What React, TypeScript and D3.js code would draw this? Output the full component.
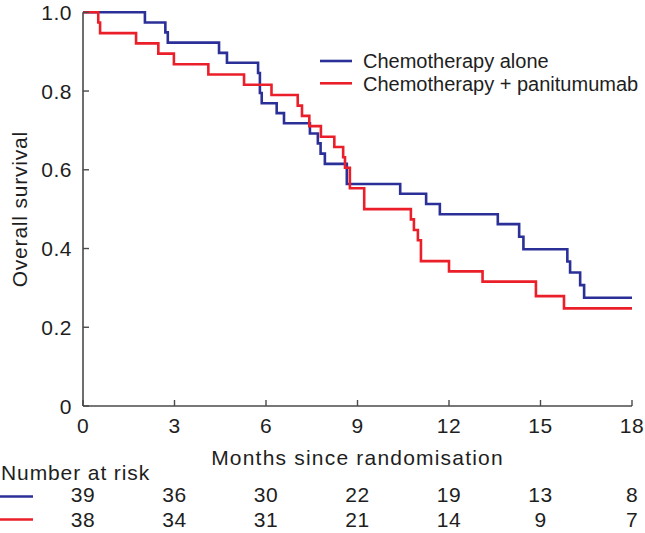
import React from "react";
import * as d3 from "d3";

const xTicks = [0, 3, 6, 9, 12, 15, 18];
const yTicks = [0, 0.2, 0.4, 0.6, 0.8, 1.0];
const yTickLabels = ["0", "0.2", "0.4", "0.6", "0.8", "1.0"];

const seriesNames = ["Chemotherapy alone", "Chemotherapy + panitumumab"];
const seriesColors = ["#2b2f98", "#ea1f2a"];

const chemoTimes = [0, 2.03, 2.70, 2.78, 4.46, 4.72, 5.74, 5.80, 5.86, 6.35, 6.59, 7.44, 7.70, 7.79, 7.93, 8.65, 10.40, 11.25, 11.70, 13.60, 14.30, 14.44, 15.88, 15.97, 16.30, 16.43, 18];
const chemoSurv = [1, 0.974, 0.949, 0.923, 0.897, 0.872, 0.846, 0.795, 0.769, 0.744, 0.718, 0.692, 0.667, 0.641, 0.615, 0.564, 0.539, 0.513, 0.487, 0.462, 0.430, 0.398, 0.367, 0.339, 0.307, 0.275, 0.275];

const panTimes = [0, 0.50, 0.56, 1.74, 2.47, 2.98, 4.11, 5.28, 6.18, 7.04, 7.18, 7.42, 7.80, 8.24, 8.53, 8.59, 8.75, 9.22, 10.75, 10.85, 10.98, 11.08, 12.0, 13.10, 14.85, 15.77, 18];
const panSurv = [1, 0.974, 0.947, 0.921, 0.895, 0.868, 0.842, 0.816, 0.790, 0.763, 0.737, 0.711, 0.684, 0.658, 0.632, 0.605, 0.553, 0.500, 0.474, 0.447, 0.421, 0.368, 0.342, 0.316, 0.279, 0.248, 0.248];

const riskChemo = [39, 36, 30, 22, 19, 13, 8];
const riskPan = [38, 34, 31, 21, 14, 9, 7];

const W = 645;
const H = 533;
const FONT = "'Liberation Sans', Arial, Helvetica, sans-serif";
const TEXT = "#1e1e1e";
const AXIS = "#4a4a4a";

export default function App() {
  const x = d3.scaleLinear().domain([0, 18]).range([83, 632]);
  const y = d3.scaleLinear().domain([0, 1]).range([406, 12.3]);

  const line = d3
    .line<[number, number]>()
    .x((d) => x(d[0]))
    .y((d) => y(d[1]))
    .curve(d3.curveStepAfter);

  const chemoPts = chemoTimes.map((t, i) => [t, chemoSurv[i]] as [number, number]);
  const panPts = panTimes.map((t, i) => [t, panSurv[i]] as [number, number]);
  const riskRows = [riskChemo, riskPan];

  return (
    <svg
      width={W}
      height={H}
      style={{ position: "absolute", left: 0, top: 0, background: "#fff" }}
      fontFamily={FONT}
    >
      {/* curves */}
      <path d={line(chemoPts) || ""} fill="none" stroke={seriesColors[0]} strokeWidth={2.6} />
      <path d={line(panPts) || ""} fill="none" stroke={seriesColors[1]} strokeWidth={2.6} />

      {/* y axis */}
      <line x1={x(0)} x2={x(0)} y1={y(1)} y2={y(0)} stroke={AXIS} strokeWidth={1.6} />
      {yTicks.map((v, i) => (
        <g key={"yt" + i}>
          <line x1={x(0)} x2={x(0) + 6} y1={y(v)} y2={y(v)} stroke={AXIS} strokeWidth={1.4} />
          <text x={72} y={y(v)} dy="0.36em" textAnchor="end" fontSize={21} fill={TEXT} letterSpacing={0.5}>
            {yTickLabels[i]}
          </text>
        </g>
      ))}
      <text
        transform={`translate(27, ${(y(0) + y(1)) / 2}) rotate(-90)`}
        textAnchor="middle"
        fontSize={21}
        fill={TEXT}
        letterSpacing={0.8}
      >
        Overall survival
      </text>

      {/* x axis */}
      <line x1={x(0)} x2={x(18)} y1={y(0)} y2={y(0)} stroke={AXIS} strokeWidth={1.6} />
      {xTicks.map((v, i) => (
        <g key={"xt" + i}>
          <line x1={x(v)} x2={x(v)} y1={y(0)} y2={y(0) - 6} stroke={AXIS} strokeWidth={1.4} />
          <text x={x(v)} y={433} textAnchor="middle" fontSize={21} fill={TEXT} letterSpacing={0.5}>
            {v}
          </text>
        </g>
      ))}
      <text x={(x(0) + x(18)) / 2} y={465} textAnchor="middle" fontSize={21} fill={TEXT} letterSpacing={1.2}>
        Months since randomisation
      </text>

      {/* legend */}
      {seriesNames.map((name, i) => (
        <g key={"lg" + i}>
          <line x1={320} x2={352} y1={61 + i * 22.3} y2={61 + i * 22.3} stroke={seriesColors[i]} strokeWidth={2.6} />
          <text x={363} y={61 + i * 22.3} dy="0.36em" fontSize={20} fill={TEXT}>
            {name}
          </text>
        </g>
      ))}

      {/* number at risk */}
      <text x={1} y={480} fontSize={21} fill={TEXT} letterSpacing={0.9}>
        Number at risk
      </text>
      {riskRows.map((row, r) => (
        <g key={"rr" + r}>
          <line x1={0} x2={33} y1={496.5 + r * 23} y2={496.5 + r * 23} stroke={seriesColors[r]} strokeWidth={2.6} />
          {row.map((n, i) => (
            <text key={i} x={x(xTicks[i])} y={502 + r * 24.7} textAnchor="middle" fontSize={21} fill={TEXT} letterSpacing={0.5}>
              {n}
            </text>
          ))}
        </g>
      ))}
    </svg>
  );
}
